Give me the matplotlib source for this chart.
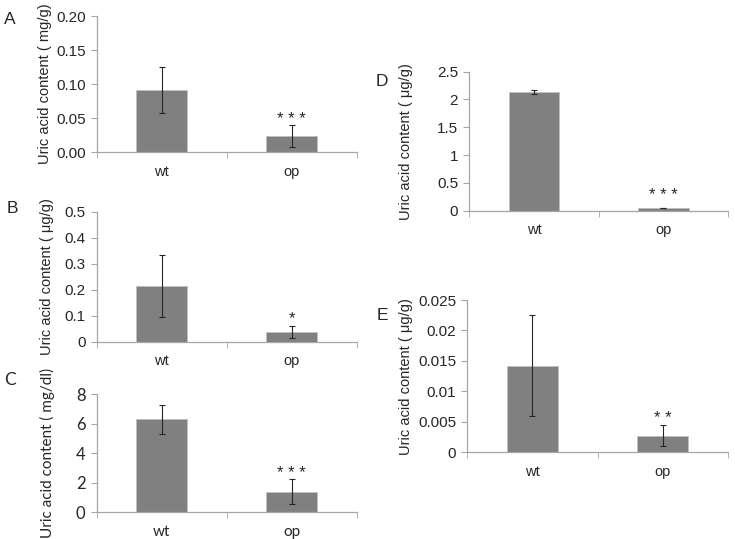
import matplotlib
matplotlib.use('Agg')
import matplotlib.pyplot as plt
from matplotlib.ticker import FixedLocator, FuncFormatter

# data (mean, error)
groups = ['wt', 'op']

a_vals = [0.091, 0.0245]
a_err = [0.034, 0.016]
b_vals = [0.214, 0.038]
b_err = [0.120, 0.022]
c_vals = [6.30, 1.38]
c_err = [0.98, 0.85]
d_vals = [2.134, 0.048]
d_err = [0.035, 0.006]
e_vals = [0.01422, 0.00274]
e_err = [0.0083, 0.0017]

stars = ['* * *', '*', '* * *', '* * *', '* *']
ylabels = ['Uric acid content ( mg/g)', 'Uric acid content ( \u03bcg/g)',
           'Uric acid content ( mg/dl)', 'Uric acid content ( \u03bcg/g)',
           'Uric acid content ( \u03bcg/g)']
letters = ['A', 'B', 'C', 'D', 'E']

W, H = 735, 539
fig = plt.figure(figsize=(W / 100, H / 100), dpi=100)

AX_COL = '#a6a6a6'
BAR_COL = '#808080'


def px_axes(l, t, r, b):
    return fig.add_axes([l / W, (H - b) / H, (r - l) / W, (b - t) / H])


def panel(box, vals, errs, ymax, ystep, fmt, star, star_y, ylab, lab_x,
          letter, letter_xy, font, ylab_size=10.5):
    ax = px_axes(*box)
    x = [0.5, 1.5]
    ax.bar(x, vals, width=0.39, color=BAR_COL, edgecolor='#bfbfbf', linewidth=0.6, zorder=2)
    ax.errorbar(x, vals, yerr=errs, fmt='none', ecolor='#262626', elinewidth=0.8,
                capsize=2.5, capthick=0.8, zorder=3)
    ax.set_xlim(0, 2)
    ax.set_ylim(0, ymax)
    n = int(round(ymax / ystep))
    ax.yaxis.set_major_locator(FixedLocator([i * ystep for i in range(n + 1)]))
    ax.yaxis.set_major_formatter(FuncFormatter(fmt))
    ax.set_xticks(x)
    ax.set_xticklabels(groups)
    ax.set_xticks([0, 1, 2], minor=True)
    for s in ['top', 'right']:
        ax.spines[s].set_visible(False)
    for s in ['left', 'bottom']:
        ax.spines[s].set_color(AX_COL)
        ax.spines[s].set_linewidth(0.9)
    ax.tick_params(axis='y', length=4, color=AX_COL, labelsize=11 if font != 'Lato' else 12,
                   labelcolor='#262626', pad=4)
    ax.tick_params(axis='x', which='major', length=0, labelsize=10.5 if font != 'Lato' else 11,
                   labelcolor='#262626', pad=9)
    ax.tick_params(axis='x', which='minor', length=4, color=AX_COL)
    for t in ax.get_yticklabels() + ax.get_xticklabels():
        t.set_fontfamily(font)
    ax.text(1.5, star_y, star, ha='center', va='center', fontsize=12,
            color='#262626', family='Liberation Sans')
    l, t, r, b = box
    fig.text(lab_x / W, 1 - ((t + b) / 2) / H, ylab, rotation=90, ha='center', va='center',
             fontsize=ylab_size, color='#262626', family=font)
    fig.text(letter_xy[0] / W, 1 - letter_xy[1] / H, letter, ha='center', va='center',
             fontsize=12.5, color='#262626', family=font)
    return ax


gen = lambda v, p: '%g' % round(v, 6)
two = lambda v, p: '%.2f' % v

panel((96.7, 16, 356.7, 152.3), a_vals, a_err, 0.20, 0.05, two, stars[0], 0.048,
      ylabels[0], 45, letters[0], (10, 20), 'Liberation Sans')
panel((96.7, 211.7, 356.7, 341.7), b_vals, b_err, 0.5, 0.1, gen, stars[1], 0.088,
      ylabels[1], 47, letters[1], (12, 208), 'Liberation Sans')
panel((96.7, 394.3, 356.7, 512.3), c_vals, c_err, 8, 2, gen, stars[2], 2.6,
      ylabels[2], 47, letters[2], (10, 380), 'Lato', ylab_size=11)
panel((469.3, 71.7, 728, 210.7), d_vals, d_err, 2.5, 0.5, gen, stars[3], 0.28,
      ylabels[3], 406, letters[3], (382, 82), 'Liberation Sans')
panel((467.3, 300, 727.7, 452.3), e_vals, e_err, 0.025, 0.005, gen, stars[4], 0.0056,
      ylabels[4], 406, letters[4], (382, 315), 'Liberation Sans')

fig.savefig('out.png', dpi=100, facecolor='white')
